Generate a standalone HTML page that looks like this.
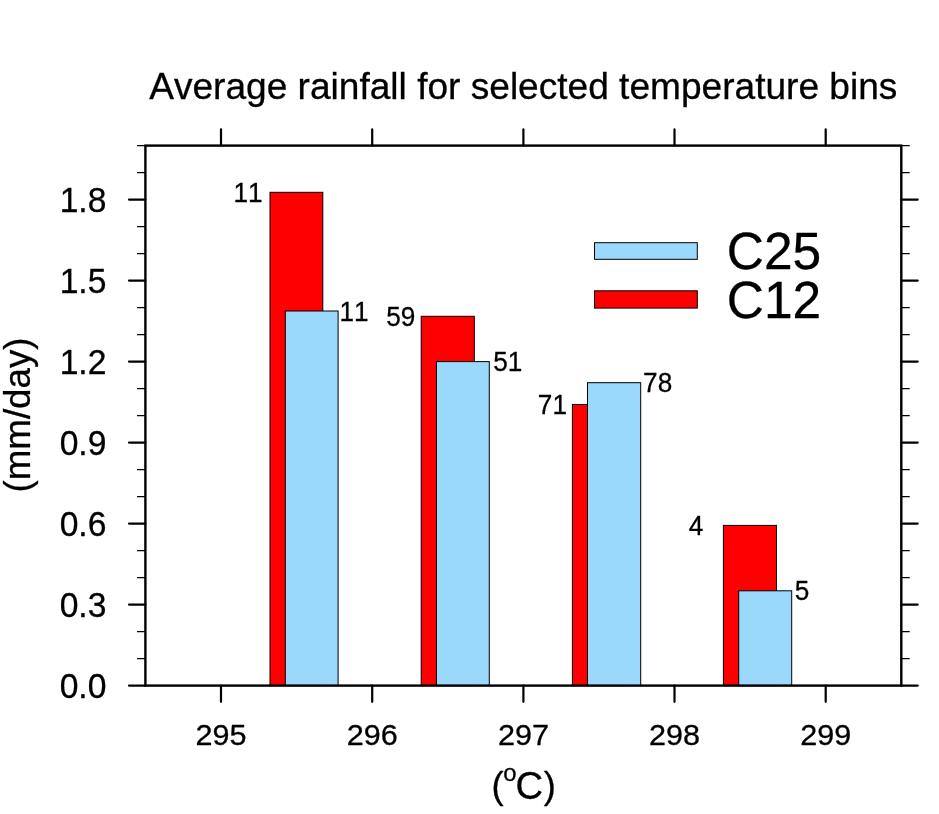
<!DOCTYPE html>
<html lang="en">
<head>
<meta charset="utf-8">
<title>Average rainfall for selected temperature bins</title>
<style>
html,body{margin:0;padding:0;background:#fff;}
body{width:939px;height:814px;overflow:hidden;}
svg{display:block;}
svg text{font-family:"Liberation Sans",Arial,Helvetica,sans-serif;fill:#000;stroke:#000;stroke-width:0.3px;font-kerning:none;}
</style>
</head>
<body>
<svg width="939" height="814" viewBox="0 0 939 814">
<rect x="0" y="0" width="939" height="814" fill="#ffffff"/>
<g stroke="#000" stroke-width="1">
<rect x="270.0" y="192.3" width="52.8" height="493.3" fill="#ff0000"/>
<rect x="285.3" y="311.0" width="52.8" height="374.6" fill="#9ad8fc"/>
<rect x="421.2" y="316.3" width="53.1" height="369.3" fill="#ff0000"/>
<rect x="436.4" y="361.6" width="52.9" height="324.0" fill="#9ad8fc"/>
<rect x="572.4" y="404.5" width="52.8" height="281.1" fill="#ff0000"/>
<rect x="587.5" y="382.7" width="53.2" height="302.9" fill="#9ad8fc"/>
<rect x="723.4" y="525.4" width="53.1" height="160.2" fill="#ff0000"/>
<rect x="738.7" y="590.8" width="53.0" height="94.8" fill="#9ad8fc"/>
</g>
<g stroke="#000" stroke-width="1">
<rect x="594.5" y="242.7" width="102.8" height="16.6" fill="#9ad8fc"/>
<rect x="594.5" y="290.8" width="102.8" height="17.3" fill="#ff0000"/>
</g>
<text transform="translate(726.71 268.80) scale(0.99 1)" font-size="52">C25</text>
<text transform="translate(726.71 317.70) scale(0.99 1)" font-size="52">C12</text>
<text transform="translate(233.41 201.90) scale(0.97 1)" font-size="27">11</text>
<text transform="translate(386.20 325.80) scale(0.97 1)" font-size="27">59</text>
<text transform="translate(537.85 414.10) scale(0.97 1)" font-size="27">71</text>
<text transform="translate(688.76 534.90) scale(0.97 1)" font-size="27">4</text>
<text transform="translate(339.48 320.90) scale(0.97 1)" font-size="27">11</text>
<text transform="translate(493.16 371.00) scale(0.97 1)" font-size="27">51</text>
<text transform="translate(643.10 392.30) scale(0.97 1)" font-size="27">78</text>
<text transform="translate(794.65 600.30) scale(0.97 1)" font-size="27">5</text>
<rect x="145.4" y="145.6" width="755.9" height="540.0" fill="none" stroke="#000" stroke-width="2.4"/>
<path d="M129.0 685.6H145.4M901.3 685.6H917.7M129.0 604.6H145.4M901.3 604.6H917.7M129.0 523.6H145.4M901.3 523.6H917.7M129.0 442.6H145.4M901.3 442.6H917.7M129.0 361.6H145.4M901.3 361.6H917.7M129.0 280.6H145.4M901.3 280.6H917.7M129.0 199.6H145.4M901.3 199.6H917.7M221.0 129.4V145.6M221.0 685.6V701.8M372.2 129.4V145.6M372.2 685.6V701.8M523.4 129.4V145.6M523.4 685.6V701.8M674.5 129.4V145.6M674.5 685.6V701.8M825.7 129.4V145.6M825.7 685.6V701.8" stroke="#000" stroke-width="2.2" stroke-linecap="round" fill="none"/>
<path d="M137.0 658.6H145.4M901.3 658.6H909.7M137.0 631.6H145.4M901.3 631.6H909.7M137.0 577.6H145.4M901.3 577.6H909.7M137.0 550.6H145.4M901.3 550.6H909.7M137.0 496.6H145.4M901.3 496.6H909.7M137.0 469.6H145.4M901.3 469.6H909.7M137.0 415.6H145.4M901.3 415.6H909.7M137.0 388.6H145.4M901.3 388.6H909.7M137.0 334.6H145.4M901.3 334.6H909.7M137.0 307.6H145.4M901.3 307.6H909.7M137.0 253.6H145.4M901.3 253.6H909.7M137.0 226.6H145.4M901.3 226.6H909.7M137.0 172.6H145.4M901.3 172.6H909.7M137.0 145.6H145.4M901.3 145.6H909.7" stroke="#000" stroke-width="1.1" fill="none"/>
<g font-size="34.5" text-anchor="end">
<text transform="translate(106.4 697.60) scale(0.975 1)">0.0</text>
<text transform="translate(106.4 616.60) scale(0.975 1)">0.3</text>
<text transform="translate(106.4 535.60) scale(0.975 1)">0.6</text>
<text transform="translate(106.4 454.60) scale(0.975 1)">0.9</text>
<text transform="translate(106.4 373.60) scale(0.975 1)">1.2</text>
<text transform="translate(106.4 292.60) scale(0.975 1)">1.5</text>
<text transform="translate(106.4 211.60) scale(0.975 1)">1.8</text>
</g>
<g font-size="29.2" text-anchor="middle">
<text transform="translate(221.0 745.05) scale(1.048 1)">295</text>
<text transform="translate(372.2 745.05) scale(1.048 1)">296</text>
<text transform="translate(523.4 745.05) scale(1.048 1)">297</text>
<text transform="translate(674.5 745.05) scale(1.048 1)">298</text>
<text transform="translate(825.7 745.05) scale(1.048 1)">299</text>
</g>
<text x="523.3" y="98.7" font-size="37.1" text-anchor="middle">Average rainfall for selected temperature bins</text>
<text transform="translate(30.0 415) rotate(-90)" font-size="36.7" text-anchor="middle">(mm/day)</text>
<text font-size="36.2"><tspan x="491.54" y="798.3">(</tspan><tspan x="503.37" y="780.7" font-size="23.8">o</tspan><tspan x="515.5" y="798.6" font-size="38.2">C</tspan><tspan x="543.63" y="798.3">)</tspan></text>
</svg>
</body>
</html>
